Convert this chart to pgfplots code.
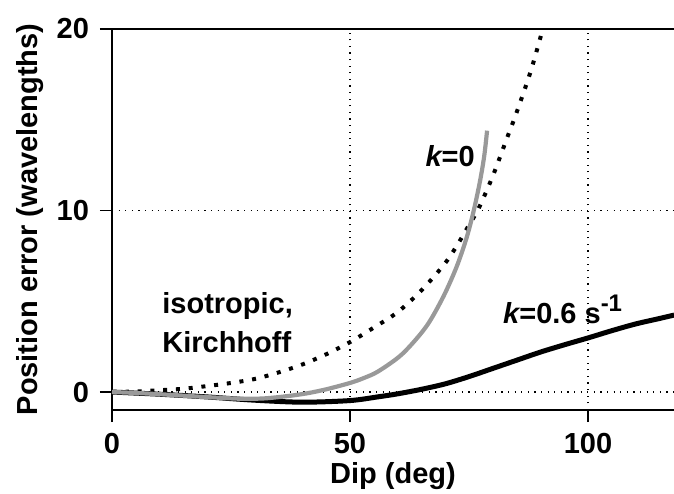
\documentclass[border=0pt]{standalone}
\usepackage{fontspec}
\setmainfont{Liberation Sans}
\usepackage{pgfplots}
\pgfplotsset{compat=1.18}
\definecolor{kzero}{gray}{0.6}

\pgfplotstableread{
x y
0 0
5 0.03
10 0.1
15 0.18
20 0.33
25 0.5
30 0.72
35 1.08
40 1.52
45 2.08
50 2.75
55 3.55
60 4.4
65 5.6
70 7.1
73 8.3
75 9.2
77 10.1
80 11.9
83 14.0
85 15.4
88 17.7
90.5 20
}\isotropic

\pgfplotstableread{
x y
0 0
5 -0.05
10 -0.12
15 -0.2
20 -0.28
27 -0.37
32 -0.35
37 -0.22
41 -0.07
45 0.15
50 0.5
53 0.78
56 1.15
61 2.1
66 3.6
69.6 5.25
72.4 6.9
74.5 8.5
76 10.0
77.3 11.6
78.2 13.0
78.8 14.4
}\kzero

\pgfplotstableread{
x y
0 0
10 -0.12
20 -0.27
30 -0.45
40 -0.56
50 -0.47
56 -0.26
60 -0.1
65 0.15
70 0.45
75 0.85
80 1.3
85 1.75
90 2.2
95 2.6
100 2.98
105 3.38
110 3.75
115 4.05
118.1 4.24
}\kpointsix

\begin{document}
\begin{tikzpicture}
\path[use as bounding box] (-56pt,-41.5pt) rectangle (281pt,205pt);
\begin{axis}[at={(0,0)},anchor=south west,
  scale only axis,width=281pt,height=190.5pt,
  font=\fontsize{14.5}{17}\selectfont\bfseries,
  xmin=0,xmax=118.07,ymin=-0.99,ymax=20,
  axis x line*=box,axis y line*=left,
  axis line style={line width=0.6pt},
  xtick={0,50,100},ytick={0,10,20},
  xtick pos=bottom,ytick pos=left,
  tick align=outside,major tick length=6pt,
  tick style={line width=0.6pt,black},
  /pgf/number format/assume math mode=true,
  xticklabel style={yshift=-2pt},
  yticklabel style={xshift=-2pt},
  grid=major,
  major grid style={black,line width=0.6pt,dash pattern=on 0.6pt off 2.7pt},
  xlabel={Dip (deg)},
  ylabel={Position error (wavelengths)},
  xlabel style={at={(axis description cs:0.5,0)},anchor=base,yshift=-36.5pt},
  ylabel style={at={(axis description cs:-0.1317,0.5)},anchor=base},
  clip=true]
  \addplot[black,line width=2pt,dash pattern=on 2pt off 4.4pt,smooth] table {\isotropic};
  \addplot[black,line width=2.5pt,smooth] table {\kpointsix};
  \addplot[kzero,line width=2.1pt,smooth] table {\kzero};
  \node[anchor=base west,inner sep=0pt] at (axis cs:10.5,4.35) {isotropic,};
  \node[anchor=base west,inner sep=0pt] at (axis cs:10.5,2.2) {Kirchhoff};
  \node[anchor=base west,inner sep=0pt] at (axis cs:65.8,12.4) {\itshape k\upshape=0};
  \node[anchor=base west,inner sep=0pt] at (axis cs:82.1,3.8)
    {\itshape k\upshape=0.6 s\raisebox{6pt}{\fontsize{12}{12}\selectfont -1}};
\end{axis}
\end{tikzpicture}
\end{document}
